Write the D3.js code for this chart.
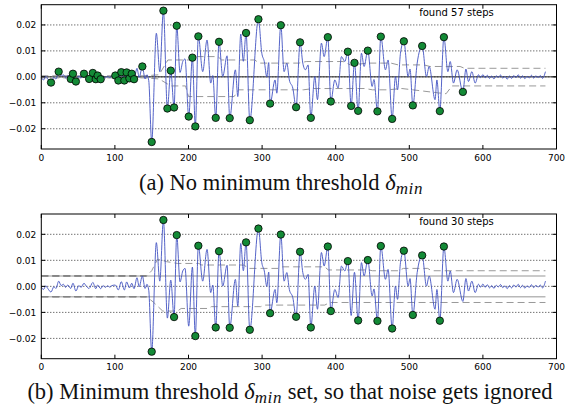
<!DOCTYPE html>
<html>
<head>
<meta charset="utf-8">
<script src="https://cdn.jsdelivr.net/npm/d3@7"></script>
<style>
  body { margin: 0; background: #fff; }
  text { font-family: "DejaVu Sans", sans-serif; }
  .cap { font-family: "Liberation Serif", "Times New Roman", serif; }
</style>
</head>
<body>
<svg id="fig" width="565" height="408"></svg>
<script>
// signal: [sample, value] at each wiggle
var signal = [
  [0,-0.0003],[3,-0.0012],[6,0.0002],[9,-0.0009],[13.2,-0.0022],[17,-0.0002],[20,-0.0008],
  [23.6,0.0020],[27,0.0003],[30,0.0008],[33,-0.0004],[36,0.0005],[40,-0.0008],[43,0.0012],
  [47,-0.0018],[51,0.0003],[54,-0.0004],[58,0.0012],[61,0.0001],[65,-0.0008],[70,0.0015],
  [74,-0.0009],[76.6,0.0005],[80.7,-0.0009],[84,0.0003],[87,-0.0004],[90,0.0002],[93,-0.0003],
  [96,0.0003],[100.6,0.0005],[104.7,-0.0014],[108.7,0.0018],[112.8,-0.0014],[116,0.0017],
  [119.7,-0.0006],[122.9,0.0012],[126,-0.0009],[130,0.0033],[133,-0.0002],[137.3,0.0040],
  [141,-0.0008],[143.5,0.0008],[146,-0.0015],[150,-0.0251],[156.3,0.0168],[161,0.0020],
  [165.9,0.0255],[171.3,-0.0122],[175.9,0.0024],[180.4,-0.0118],[184,0.0197],[188.5,0.0017],
  [192.2,0.0059],[195.3,0.0069],[200.3,-0.0153],[205.3,0.0074],[209.3,-0.0191],[213.4,0.0156],
  [219.3,0.0020],[225.2,0.0142],[230.2,-0.0024],[233,0.0005],[237,-0.0158],[241.5,0.0135],
  [246.5,0.0001],[252.4,0.0081],[256,-0.0159],[263.7,0.0027],[267,-0.0076],[271,0.0165],
  [274.5,0.0060],[278.2,0.0169],[283.3,-0.0167],[295,0.0222],[299.6,0.0091],[303,0.0059],
  [306.4,0.0000],[309,0.0055],[310.9,-0.0103],[317.6,-0.0012],[320,-0.0063],[325.4,0.0199],
  [329.9,0.0020],[333.6,0.0053],[337,-0.0012],[341.7,-0.0043],[346.2,-0.0117],[351.6,0.0133],
  [355.3,0.0053],[358.9,0.0027],[362.5,0.0046],[366.2,-0.0158],[371.6,0.0001],[375.2,-0.0088],
  [380.6,0.0130],[384.3,0.0078],[389.3,0.0153],[393.4,-0.0095],[398.8,-0.0012],[403.3,-0.0043],
  [407.8,0.0078],[412.4,0.0059],[416.5,0.0097],[421,-0.0112],[425.5,0.0054],[430.5,-0.0131],
  [435,0.0091],[438.6,0.0040],[443.6,0.0101],[449.5,-0.0037],[452,-0.0010],[456.7,-0.0133],
  [461.3,0.0155],[467.6,0.0027],[471.2,0.0065],[476.7,-0.0162],[481.2,0.0001],[484,-0.0050],
  [488,0.0091],[492.6,0.0137],[498.4,0.0001],[501,0.0030],[504.8,-0.0110],[510.7,0.0053],
  [517.5,0.0119],[523.3,0.0001],[527,0.0040],[535,-0.0088],[537.5,-0.0012],[541.5,-0.0132],
  [547,0.0153],[552.4,0.0020],[555.6,0.0059],[560,-0.0024],[565,0.0027],[572.8,-0.0058],
  [576.9,0.0030],[580.4,-0.0018],[585,0.0020],[589.5,-0.0024],[594,0.0008],[597,-0.0003],
  [600,0.0009],[603,-0.0004],[606,0.0006],[609,-0.0006],[612,0.0003],[615,-0.0008],[618,0.0004],
  [621,-0.0002],[624,0.0007],[627,-0.0005],[630,0.0002],[633,-0.0009],[636,0.0003],[639,-0.0006],
  [642,0.0005],[645,-0.0003],[648,0.0008],[651,-0.0005],[654,0.0004],[657,-0.0007],[660,0.0002],
  [663,-0.0004],[666,0.0006],[669,-0.0005],[672,0.0004],[675,-0.0003],[678,0.0005],[681,-0.0006],
  [685,0.0020]
];

// detected steps, panel (a) and panel (b)
var stepsA = [
  [13.2,-0.0022],[23.6,0.0020],[40,-0.0008],[43,0.0012],[47,-0.0018],[58,0.0012],[65,-0.0008],
  [70,0.0015],[74,-0.0009],[76.6,0.0005],[80.7,-0.0009],[100.6,0.0005],[104.7,-0.0014],
  [108.7,0.0018],[112.8,-0.0014],[116,0.0017],[119.7,-0.0006],[122.9,0.0012],[126,-0.0009],
  [137.3,0.0040],[150,-0.0251],[165.9,0.0255],[171.3,-0.0122],[175.9,0.0024],[180.4,-0.0118],
  [184,0.0197],[200.3,-0.0153],[205.3,0.0074],[209.3,-0.0191],[213.4,0.0156],[237,-0.0158],
  [241.5,0.0135],[256,-0.0159],[278.2,0.0169],[283.3,-0.0167],[295,0.0222],[310.9,-0.0103],
  [325.4,0.0199],[346.2,-0.0117],[351.6,0.0133],[366.2,-0.0158],[389.3,0.0153],[393.4,-0.0095],
  [416.5,0.0097],[421,-0.0112],[425.5,0.0054],[430.5,-0.0131],[443.6,0.0101],[456.7,-0.0133],
  [461.3,0.0155],[476.7,-0.0162],[492.6,0.0137],[504.8,-0.0110],[517.5,0.0119],[541.5,-0.0132],
  [547,0.0153],[572.8,-0.0058]
];
var stepsB = [
  [150,-0.0251],[165.9,0.0255],[180.4,-0.0118],[184,0.0197],[209.3,-0.0191],[213.4,0.0156],
  [237,-0.0158],[241.5,0.0135],[256,-0.0159],[278.2,0.0169],[283.3,-0.0167],[295,0.0222],
  [310.9,-0.0103],[325.4,0.0199],[346.2,-0.0117],[351.6,0.0133],[366.2,-0.0158],[389.3,0.0153],
  [393.4,-0.0095],[416.5,0.0097],[430.5,-0.0131],[443.6,0.0101],[456.7,-0.0133],[461.3,0.0155],
  [476.7,-0.0162],[492.6,0.0137],[504.8,-0.0110],[517.5,0.0119],[541.5,-0.0132],[547,0.0153]
];

// adaptive threshold envelopes
var upperA = [[0,0.0004],[140,0.0004],[160,0.0008],[172,0.0065],[200,0.0065],[205,0.0078],
  [240,0.0078],[245,0.0065],[290,0.0065],[296,0.0053],[350,0.0053],[360,0.0059],[410,0.0059],
  [420,0.0046],[445,0.0053],[475,0.0053],[485,0.0046],[520,0.0046],[528,0.0040],[569,0.0040],
  [575,0.0033],[685,0.0033]];
var lowerA = [[0,-0.0004],[140,-0.0004],[160,-0.0008],[176,-0.0035],[196,-0.0035],[200,-0.0076],
  [262,-0.0076],[268,-0.0050],[356,-0.0050],[370,-0.0045],[440,-0.0045],[450,-0.0050],
  [470,-0.0050],[490,-0.0045],[540,-0.0062],[550,-0.0065],[558,-0.0035],[685,-0.0035]];
var upperB = [[0,0.004],[143,0.004],[150,0.006],[158,0.0105],[170,0.0095],[185,0.0088],
  [214,0.0088],[218,0.0082],[276,0.0082],[280,0.0069],[322,0.0069],[327,0.0075],[385,0.0075],
  [390,0.0063],[445,0.0063],[450,0.0060],[485,0.0060],[492,0.0069],[525,0.0069],[530,0.0060],
  [685,0.0060]];
var lowerB = [[0,-0.004],[143,-0.004],[152,-0.006],[165,-0.0095],[185,-0.0095],[190,-0.0085],
  [227,-0.0085],[231,-0.0078],[298,-0.0078],[303,-0.0072],[385,-0.0072],[392,-0.0062],
  [685,-0.0062]];

var deltaMin = 0.004;     // minimum threshold used in (b)
var noiseEndB = 143;      // envelope sits on delta_min up to here
var signalEnd = 685;
var xTicks = [0,100,200,300,400,500,600,700];
var yTicks = [-0.02,-0.01,0.00,0.01,0.02];
var yLim = 0.0278;

var svg = d3.select("#fig");
var scX = d3.scaleLinear().domain([0,700]).range([41.3,556.5]);

var panels = [
  { top: 4.7, bottom: 149, steps: stepsA, upper: upperA, lower: lowerA, zero: true,
    capX: 281, capY: 190, cap: ["(a) No minimum threshold ", ""] },
  { top: 214, bottom: 358.7, steps: stepsB, upper: upperB, lower: lowerB, zero: false,
    capX: 290, capY: 399, cap: ["(b) Minimum threshold ", " set, so that noise gets ignored"] }
];

panels.forEach(function(p, i) {
  var scY = d3.scaleLinear().domain([-yLim, yLim]).range([p.bottom, p.top]);
  var g = svg.append("g");
  var x0 = scX.range()[0], x1 = scX.range()[1];
  var line = d3.line().x(d => scX(d[0])).y(d => scY(d[1]));

  // dotted grid on y ticks
  g.selectAll(".grid").data(yTicks).enter().append("line")
    .attr("x1", x0).attr("x2", x1)
    .attr("y1", d => scY(d)).attr("y2", d => scY(d))
    .attr("stroke", "#000").attr("stroke-width", 0.8)
    .attr("stroke-dasharray", "1,2");

  if (p.zero) {
    g.append("line").attr("x1", x0).attr("x2", x1)
      .attr("y1", scY(0)).attr("y2", scY(0))
      .attr("stroke", "#222").attr("stroke-width", 1);
  } else {
    [deltaMin, -deltaMin].forEach(function(v) {
      g.append("line").attr("x1", scX(0)).attr("x2", scX(signalEnd))
        .attr("y1", scY(v)).attr("y2", scY(v))
        .attr("stroke", "#b8b8b8").attr("stroke-width", 1.5);
      g.append("line").attr("x1", scX(0)).attr("x2", scX(noiseEndB))
        .attr("y1", scY(v)).attr("y2", scY(v))
        .attr("stroke", "#222").attr("stroke-width", 1)
        .attr("stroke-dasharray", "7,4");
    });
  }

  // envelope
  [p.upper, p.lower].forEach(function(env) {
    g.append("path").attr("d", line(env))
      .attr("fill", "none").attr("stroke", "#999").attr("stroke-width", 1)
      .attr("stroke-dasharray", "7,4");
  });

  // signal
  g.append("path").attr("d", line.curve(d3.curveMonotoneX)(signal))
    .attr("fill", "none").attr("stroke", "#4253c2").attr("stroke-width", 1)
    .attr("stroke-opacity", 0.9);

  // steps
  g.selectAll(".step").data(p.steps).enter().append("circle")
    .attr("cx", d => scX(d[0])).attr("cy", d => scY(d[1])).attr("r", 3.7)
    .attr("fill", "#138a36").attr("stroke", "#000").attr("stroke-width", 0.8);

  // frame
  g.append("rect").attr("x", x0).attr("y", p.top)
    .attr("width", x1 - x0).attr("height", p.bottom - p.top)
    .attr("fill", "none").attr("stroke", "#000").attr("stroke-width", 1);

  // inward ticks on all four sides
  var tl = 4;
  xTicks.forEach(function(t) {
    g.append("line").attr("x1", scX(t)).attr("x2", scX(t))
      .attr("y1", p.bottom).attr("y2", p.bottom - tl).attr("stroke", "#000");
    g.append("line").attr("x1", scX(t)).attr("x2", scX(t))
      .attr("y1", p.top).attr("y2", p.top + tl).attr("stroke", "#000");
    g.append("text").attr("x", scX(t)).attr("y", p.bottom + 11.5)
      .attr("text-anchor", "middle").attr("font-size", 9).text(t);
  });
  yTicks.forEach(function(t) {
    g.append("line").attr("x1", x0).attr("x2", x0 + tl)
      .attr("y1", scY(t)).attr("y2", scY(t)).attr("stroke", "#000");
    g.append("line").attr("x1", x1).attr("x2", x1 - tl)
      .attr("y1", scY(t)).attr("y2", scY(t)).attr("stroke", "#000");
    g.append("text").attr("x", x0 - 5).attr("y", scY(t) + 3.3)
      .attr("text-anchor", "end").attr("font-size", 9)
      .text(d3.format(".2f")(t).replace("-", "\u2212"));
  });

  g.append("text").attr("x", 456.5).attr("y", p.top + 11)
    .attr("text-anchor", "middle").attr("font-size", 10)
    .text("found " + p.steps.length + " steps");

  // caption
  var cap = svg.append("text").attr("class", "cap")
    .attr("x", p.capX).attr("y", p.capY).attr("text-anchor", "middle")
    .attr("font-size", 22.5).attr("fill", "#111");
  cap.append("tspan").text(p.cap[0]);
  cap.append("tspan").attr("font-style", "italic").text("\u03b4");
  cap.append("tspan").attr("font-style", "italic").attr("font-size", 17)
    .attr("dy", 4).attr("letter-spacing", 0.6).text("min");
  cap.append("tspan").attr("dy", -4).text(p.cap[1]);
});
</script>
</body>
</html>
